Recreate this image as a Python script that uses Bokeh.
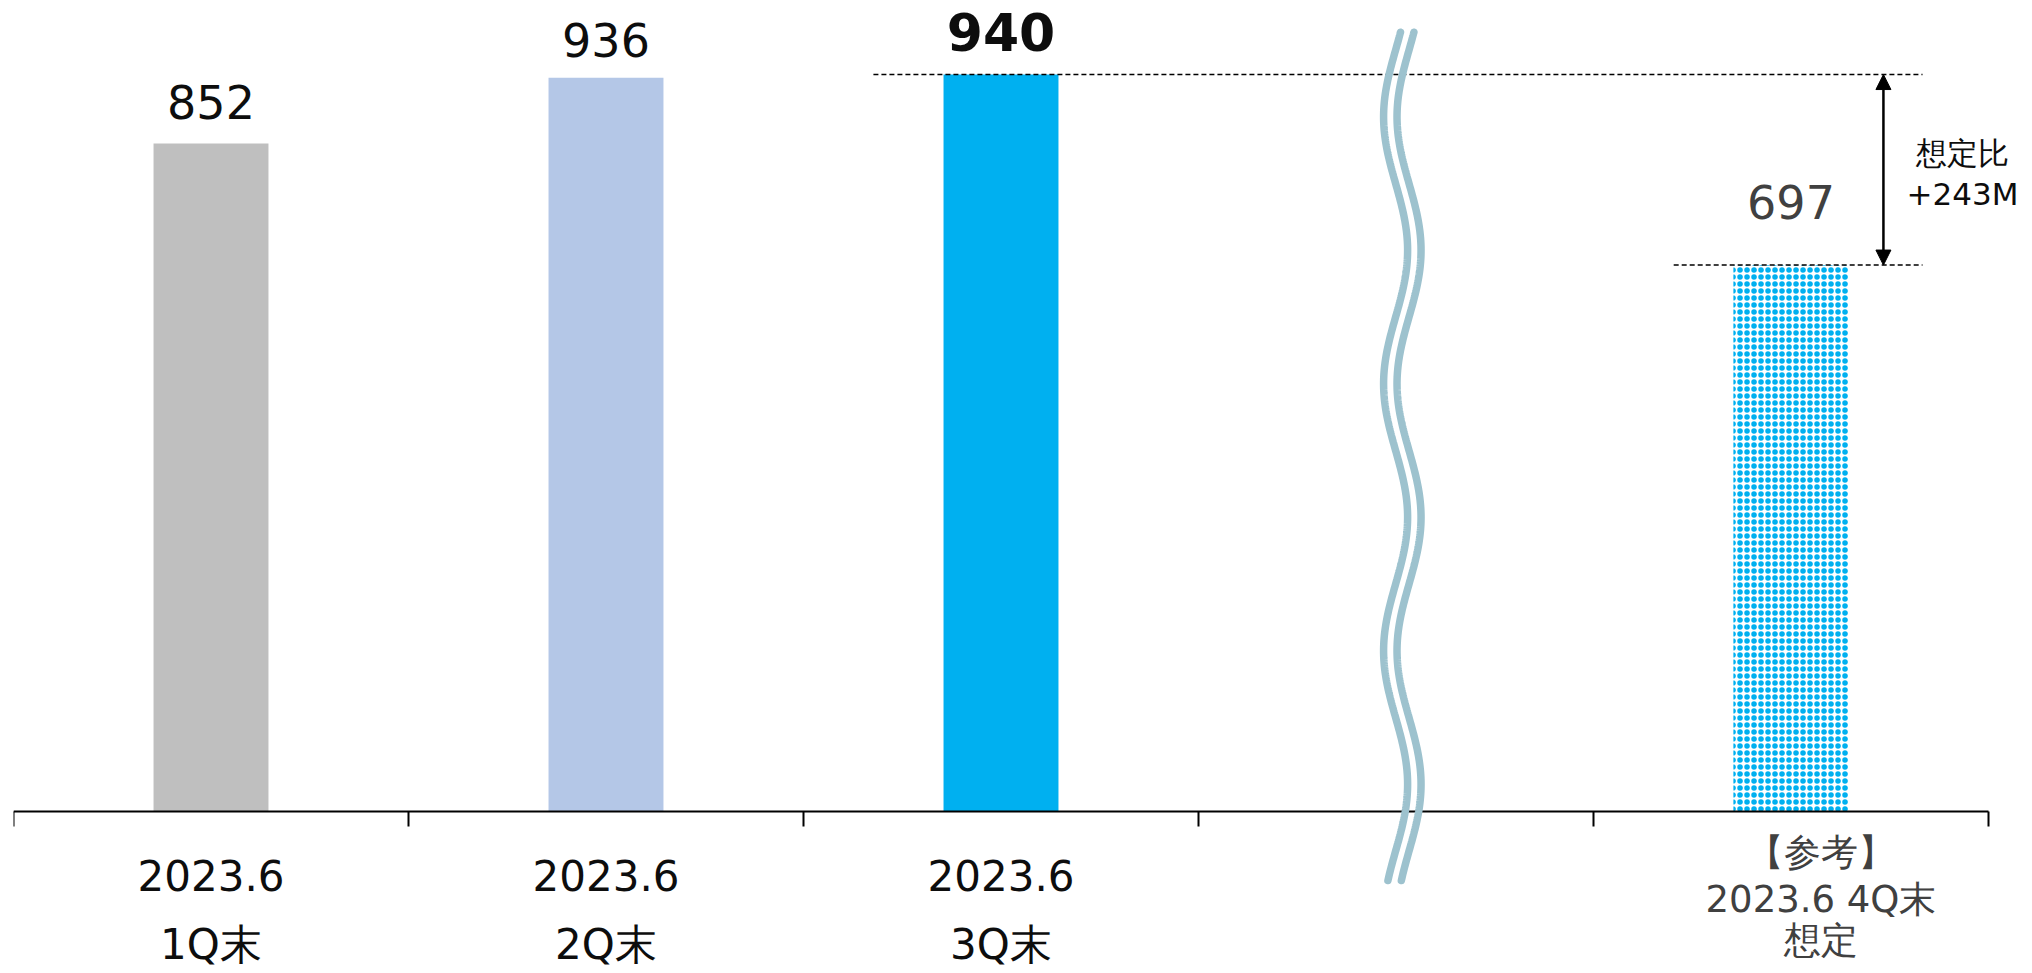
import numpy as np
from bokeh.plotting import figure
from bokeh.models import Range1d, LinearAxis, FixedTicker, Arrow, NormalHead
from bokeh.core.properties import value
from bokeh.embed import file_html
from bokeh.resources import INLINE

# ---------------- data ----------------
categories = ["2023.6\n1Q末", "2023.6\n2Q末", "2023.6\n3Q末", "", "【参考】\n2023.6 4Q末\n想定"]
values = [852, 936, 940, None, 697]
gap_title = "想定比"
gap_unit = "M"

# ---------------- styles ----------------
bar_colors = ["#BFBFBF", "#B4C7E7", "#00B0F0", None, "#00B0F0"]
value_colors = ["#0D0D0D", "#0D0D0D", "#0D0D0D", None, "#404040"]
value_styles = ["normal", "normal", "bold", None, "normal"]
value_sizes = ["46px", "46px", "52px", None, "46px"]
value_dy = [-42, -38, -43, 0, -63]
label_sizes = ["42px", "42px", "42px", None, "37px"]
label_colors = ["#0D0D0D", "#0D0D0D", "#0D0D0D", None, "#404040"]
label_dx = [0, 0, 0, 0, 30]
line_offsets = {2: [64, 133], 3: [41, 88, 129]}
FONT = value("DejaVu Sans")

W, H = 2032, 973
LEFT = 13
PX_X = 395.0      # pixels per category slot
PX_Y = 0.784      # pixels per value unit
BASE = 811        # axis position, px from figure top
BAR_W = 0.291

p = figure(width=W, height=H, output_backend="svg", toolbar_location=None,
           x_range=Range1d(0, (W - LEFT) / PX_X),
           y_range=Range1d(-(H - BASE) / PX_Y, BASE / PX_Y),
           x_axis_type=None, y_axis_type=None,
           min_border_left=LEFT, min_border_right=0,
           min_border_top=0, min_border_bottom=0)
p.outline_line_color = None
p.background_fill_color = "white"
p.border_fill_color = "white"

n = len(categories)
xs = [i + 0.5 for i in range(n)]

# solid bars
solid = [i for i in range(n) if values[i] is not None and i != n - 1]
p.vbar(x=[xs[i] for i in solid], top=[values[i] for i in solid], bottom=0,
       width=BAR_W, fill_color=[bar_colors[i] for i in solid], line_color=None)

# projected (patterned) bar: white base with blue dotted texture
last = n - 1
p.vbar(x=[xs[last]], top=[values[last]], bottom=0, width=BAR_W,
       fill_color="white", line_color=None,
       hatch_pattern="ring", hatch_color=bar_colors[last],
       hatch_scale=7, hatch_weight=2)
p.vbar(x=[xs[last]], top=[values[last]], bottom=0, width=BAR_W,
       fill_color=None, line_color=None,
       hatch_pattern="dot", hatch_color=bar_colors[last],
       hatch_scale=7, hatch_weight=1)

# axis at zero with separator ticks
ticks = list(range(n + 1))
ax = LinearAxis(fixed_location=0, bounds=(0, n),
                ticker=FixedTicker(ticks=ticks),
                major_label_overrides={t: "" for t in ticks},
                major_tick_in=0, major_tick_out=15,
                minor_tick_in=0, minor_tick_out=0,
                axis_line_color="black", axis_line_width=2,
                major_tick_line_color="black", major_tick_line_width=2)
p.add_layout(ax, "below")

# value labels
for i in range(n):
    if values[i] is None:
        continue
    p.text(x=[xs[i]], y=[values[i]], text=[str(values[i])],
           y_offset=value_dy[i], text_align="center", text_baseline="alphabetic",
           text_font=FONT, text_font_size=value_sizes[i],
           text_font_style=value_styles[i], text_color=value_colors[i])

# category labels
for i, cat in enumerate(categories):
    if not cat:
        continue
    lines = cat.split("\n")
    offs = line_offsets[len(lines)]
    p.text(x=[xs[i]] * len(lines), y=[0] * len(lines), text=lines,
           x_offset=label_dx[i], y_offset=offs,
           text_align="center", text_baseline="alphabetic",
           text_font=FONT, text_font_size=label_sizes[i],
           text_color=label_colors[i])

# reference dashed lines
cur, proj = values[2], values[last]
p.segment(x0=[xs[2] - 0.323, xs[last] - 0.297], y0=[cur, proj],
          x1=[xs[last] + 0.333, xs[last] + 0.333], y1=[cur, proj],
          line_color="black", line_width=1.4, line_dash="5 3")

# double arrow
xa = xs[last] + 0.234
p.add_layout(Arrow(x_start=xa, y_start=proj, x_end=xa, y_end=cur,
                   line_color="black", line_width=2.5,
                   start=NormalHead(size=15, fill_color="black", line_color="black"),
                   end=NormalHead(size=15, fill_color="black", line_color="black")))

# gap annotation
mid = (cur + proj) / 2
p.text(x=[xs[last] + 0.434] * 2, y=[mid] * 2,
       text=[gap_title, f"+{cur - proj}{gap_unit}"],
       y_offset=[-17, 24], text_align="center", text_baseline="alphabetic",
       text_font=FONT, text_font_size="31px", text_color="#0D0D0D")

# axis-break wave (decorative)
yd = np.linspace(-88, 994, 500)
xc = xs[3] + 0.016
xw = xc + 0.0304 * np.sin(2 * np.pi * (801 - yd) / 340.6)
for dx in (-0.017, 0.017):
    r = p.line(xw + dx, yd, line_color="#9DC2CE", line_width=7.5, line_cap="round")
    r.level = "overlay"

open("out.html", "w").write(file_html(p, INLINE))
